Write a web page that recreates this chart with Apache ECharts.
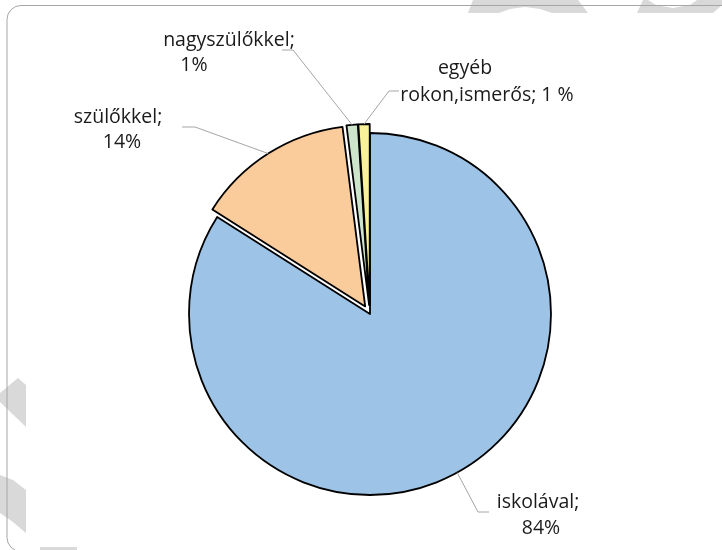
<!DOCTYPE html>
<html>
<head>
<meta charset="utf-8">
<script src="https://cdn.jsdelivr.net/npm/echarts@6/dist/echarts.min.js"></script>
<style>
  html, body { margin: 0; padding: 0; background: #ffffff; }
  #chart { width: 722px; height: 550px; }
</style>
</head>
<body>
<div id="chart"></div>
<script>
// Kivel beszélget leginkább? – megoszlás (%)
const categories = ['iskolával', 'szülőkkel', 'nagyszülőkkel', 'egyéb rokon,ismerős'];
const values = [84, 14, 1, 1];
const percentSuffix = ['%', '%', '%', ' %'];
const explodedSlices = [false, true, true, true];

// geometry and styling
const CX = 370, CY = 314, R = 181, EXPLODE = 9;
const sliceColors = ['#9DC3E6', '#FACB9B', '#CDE5CA', '#FAF29A'];
const FONT = 'Open Sans';
const FONT_SIZE = 19.5;
const TEXT_COLOR = '#1a1a1a';
const LEADER_COLOR = '#a6a6a6';

// per-slice label placement: two text lines [x, y(middle)] and leader end/elbow
const labelPlacement = [
  { lines: [[538, 502], [541, 528]], end: [489, 512], elbow: [478, 512] },
  { lines: [[118, 117], [122, 142]], end: [182, 127], elbow: [195, 127] },
  { lines: [[229, 40], [194, 65]], end: [282, 50], elbow: [293, 50] },
  { lines: [[465, 68], [487, 95]], end: [399, 91], elbow: [389, 91] }
];

function labelLines(i) {
  const name = categories[i];
  const pct = values[i] + percentSuffix[i];
  if (name.indexOf(' ') > 0) {
    const cut = name.indexOf(' ');
    return [name.slice(0, cut), name.slice(cut + 1) + '; ' + pct];
  }
  return [name + ';', pct];
}

// point on the outer arc at the middle of slice i (clockwise from 12 o'clock)
function sliceAnchor(i) {
  const total = values.reduce((a, b) => a + b, 0);
  let before = 0;
  for (let j = 0; j < i; j++) before += values[j];
  const mid = (before + values[i] / 2) / total * Math.PI * 2;
  const dx = Math.sin(mid), dy = -Math.cos(mid);
  const off = explodedSlices[i] ? EXPLODE : 0;
  return [CX + dx * (off + R), CY + dy * (off + R)];
}

const grey = '#d9d9d9';
const graphics = [
  // faint background marks
  { type: 'polygon', z: 0, silent: true, shape: { points: [[473, 0], [578, 0], [588, 13], [552, 13], [540, 9], [525, 7], [510, 9], [499, 13], [468, 13]] }, style: { fill: grey } },
  { type: 'polygon', z: 0, silent: true, shape: { points: [[637, 13], [643, 0], [648, 0], [656, 5], [673, 8], [690, 5], [697, 0], [722, 0], [722, 5], [713, 13]] }, style: { fill: grey } },
  { type: 'polygon', z: 0, silent: true, shape: { points: [[0, 393], [18, 378], [26, 385], [26, 427], [0, 402]] }, style: { fill: grey } },
  { type: 'polygon', z: 0, silent: true, shape: { points: [[0, 475], [13, 480], [26, 490], [26, 533], [13, 522], [0, 513]] }, style: { fill: grey } },
  { type: 'rect', z: 0, silent: true, shape: { x: 40, y: 547, width: 37, height: 3 }, style: { fill: grey } },
  // chart area frame
  { type: 'rect', z: 1, silent: true, shape: { x: 7, y: 5.5, width: 740, height: 546, r: 14 }, style: { fill: 'none', stroke: '#a6a6a6', lineWidth: 1 } }
];

categories.forEach((_, i) => {
  const p = labelPlacement[i];
  const a = sliceAnchor(i);
  graphics.push({
    type: 'polyline', z: 5, silent: true,
    shape: { points: [p.end, p.elbow, a] },
    style: { stroke: LEADER_COLOR, lineWidth: 1, fill: 'none' }
  });
  labelLines(i).forEach((txt, k) => {
    graphics.push({
      type: 'text', z: 5, silent: true,
      x: p.lines[k][0], y: p.lines[k][1],
      style: {
        text: txt, fill: TEXT_COLOR,
        font: FONT_SIZE + 'px "' + FONT + '"',
        align: 'center', verticalAlign: 'middle'
      }
    });
  });
});

const chart = echarts.init(document.getElementById('chart'), null, { renderer: 'canvas' });

chart.setOption({
  backgroundColor: '#ffffff',
  animation: false,
  graphic: graphics,
  series: [{
    type: 'pie',
    center: [CX, CY],
    radius: R,
    startAngle: 90,
    clockwise: true,
    selectedMode: 'multiple',
    selectedOffset: EXPLODE,
    emphasis: { disabled: true },
    label: { show: false },
    labelLine: { show: false },
    itemStyle: { borderColor: '#000000', borderWidth: 1.8 },
    select: { itemStyle: { borderColor: '#000000', borderWidth: 1.8 } },
    data: categories.map((name, i) => ({
      name: name,
      value: values[i],
      selected: explodedSlices[i],
      itemStyle: { color: sliceColors[i] },
      select: { itemStyle: { color: sliceColors[i] } }
    }))
  }]
});
</script>
</body>
</html>
